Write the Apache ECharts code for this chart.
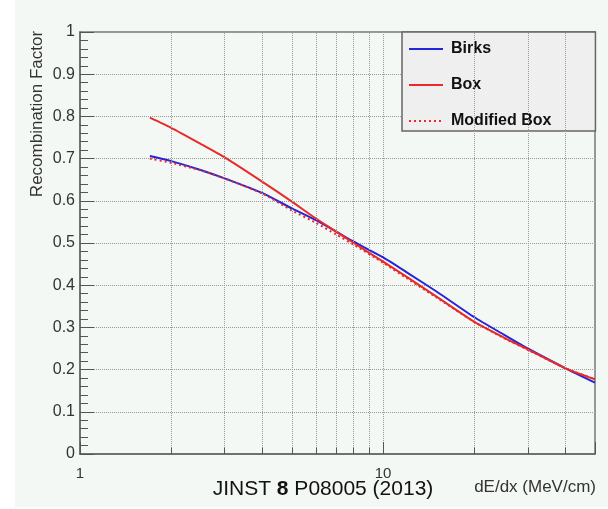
<!DOCTYPE html>
<html>
<head>
<meta charset="utf-8">
<script src="https://cdn.jsdelivr.net/npm/echarts@6/dist/echarts.min.js"></script>
<style>
  html, body { margin: 0; padding: 0; background: #ffffff; }
  #chart { width: 608px; height: 509px; }
</style>
</head>
<body>
<div id="chart"></div>
<script>
// Stopping power values (MeV/cm) where the curves are sampled
const dEdx = [1.7, 2, 2.5, 3, 4, 5, 6, 7, 8, 10, 12, 15, 20, 25, 30, 40, 50];
// Recombination factor for each model
const birks  = [0.706, 0.694, 0.673, 0.653, 0.618, 0.582, 0.554, 0.527, 0.503, 0.466, 0.430, 0.385, 0.324, 0.283, 0.250, 0.203, 0.169];
const box    = [0.797, 0.773, 0.735, 0.703, 0.645, 0.598, 0.558, 0.527, 0.500, 0.456, 0.419, 0.373, 0.313, 0.276, 0.248, 0.203, 0.177];
const modBox = [0.700, 0.690, 0.672, 0.653, 0.617, 0.577, 0.548, 0.520, 0.496, 0.453, 0.416, 0.371, 0.313, 0.275, 0.247, 0.203, 0.177];
// Log-axis subdivisions drawn as extra grid lines and short ticks
const xMinor = [2, 3, 4, 5, 6, 7, 8, 9, 20, 30, 40];
const xLabels = [1, 10];

const FONT = '"Liberation Sans", Arial, Helvetica, sans-serif';
const pairs = (ys) => dEdx.map((x, i) => [x, ys[i]]);

const chart = echarts.init(document.getElementById('chart'), null, { renderer: 'canvas' });

const gridLines = {
  silent: true,
  symbol: 'none',
  label: { show: false },
  lineStyle: { color: '#9a9a9a', type: 'dotted', width: 1 },
  data: xMinor.map(v => ({ xAxis: v }))
    .concat(xMinor.map(v => [
      { coord: [v, 0], lineStyle: { color: '#555', type: 'solid', width: 1 } },
      { coord: [v, 0.015] }
    ]))
};

chart.setOption({
  animation: false,
  backgroundColor: '#ffffff',
  graphic: [
    { type: 'rect', z: -10, shape: { x: 15, y: 0, width: 593, height: 507 }, style: { fill: '#f4f8f4' } },
    { type: 'text', x: 37, y: 114, rotation: Math.PI / 2,
      style: { text: 'Recombination Factor', fontFamily: FONT, fontSize: 17, fill: '#333', align: 'center', verticalAlign: 'middle' } },
    { type: 'text', x: 596, y: 487,
      style: { text: 'dE/dx (MeV/cm)', fontFamily: FONT, fontSize: 17, fill: '#333', align: 'right', verticalAlign: 'middle' } },
    { type: 'text', x: 323, y: 489,
      style: { text: 'JINST {b|8} P08005 (2013)', fontFamily: FONT, fontSize: 21, fill: '#111', align: 'center', verticalAlign: 'middle',
               rich: { b: { fontFamily: FONT, fontSize: 21, fontWeight: 'bold', fill: '#111' } } } }
  ],
  grid: {
    left: 80, right: 13, top: 32, bottom: 55,
    show: true, borderColor: '#777', borderWidth: 1.5, backgroundColor: 'transparent'
  },
  legend: {
    orient: 'vertical', left: 402, top: 32,
    backgroundColor: '#efefef', borderColor: '#666', borderWidth: 1.5,
    padding: [9, 44, 2, 6],
    itemWidth: 34, itemHeight: 14, itemGap: 20,
    itemStyle: { opacity: 0 },
    textStyle: { fontFamily: FONT, fontSize: 16, fontWeight: 'bold', color: '#111', padding: [0, 0, 0, 3] },
    data: ['Birks', 'Box', 'Modified Box']
  },
  xAxis: {
    type: 'log', logBase: 10, min: 1, max: 50,
    axisLine: { show: true, onZero: false, lineStyle: { color: '#666', width: 1.5 } },
    axisTick: { show: true, inside: true, length: 12, lineStyle: { color: '#555' } },
    axisLabel: {
      margin: 12, fontFamily: FONT, fontSize: 15, color: '#333',
      formatter: v => (xLabels.indexOf(Math.round(v)) >= 0 ? String(Math.round(v)) : '')
    },
    splitLine: { show: true, lineStyle: { color: '#9a9a9a', type: 'dotted', width: 1 } }
  },
  yAxis: {
    type: 'value', min: 0, max: 1, interval: 0.1,
    axisLine: { show: true, lineStyle: { color: '#666', width: 1.5 } },
    axisTick: { show: true, inside: true, length: 14, lineStyle: { color: '#555' } },
    minorTick: { show: true, splitNumber: 5, length: 8, lineStyle: { color: '#555' } },
    axisLabel: { margin: 5, fontFamily: FONT, fontSize: 16, color: '#333' },
    splitLine: { show: true, lineStyle: { color: '#9a9a9a', type: 'dotted', width: 1 } }
  },
  series: [
    {
      name: 'Birks', type: 'line', data: pairs(birks), symbol: 'none', smooth: 0.2, z: 3,
      lineStyle: { color: '#2424d8', width: 2 }, itemStyle: { color: '#2424d8' },
      markLine: gridLines
    },
    {
      name: 'Box', type: 'line', data: pairs(box), symbol: 'none', smooth: 0.2, z: 4,
      lineStyle: { color: '#e82a2a', width: 2 }, itemStyle: { color: '#e82a2a' }
    },
    {
      name: 'Modified Box', type: 'line', data: pairs(modBox), symbol: 'none', smooth: 0.2, z: 5,
      lineStyle: { color: '#e82a2a', width: 2, type: [2, 3] }, itemStyle: { color: '#e82a2a' }
    }
  ]
});
</script>
</body>
</html>
